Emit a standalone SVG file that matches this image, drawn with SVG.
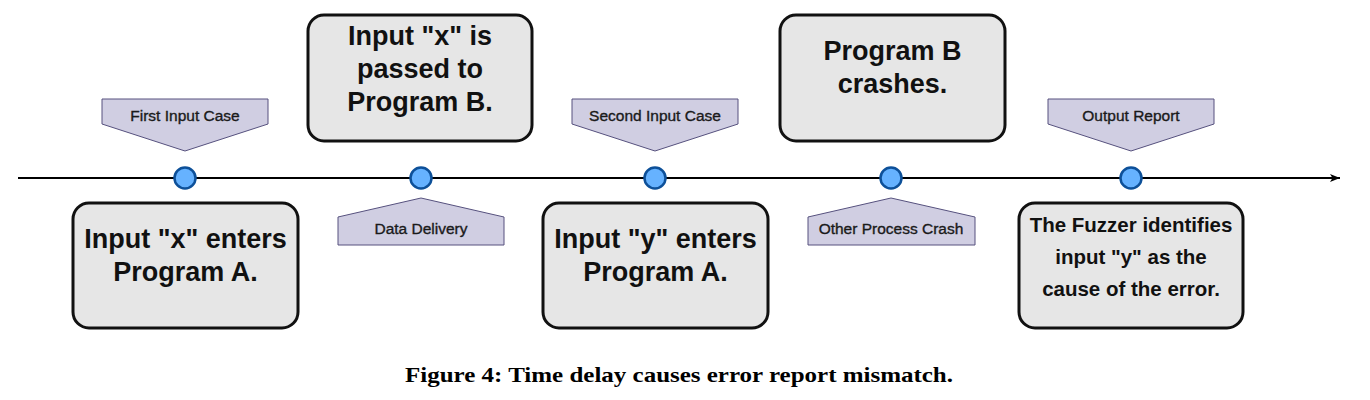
<svg xmlns="http://www.w3.org/2000/svg" width="1370" height="400" viewBox="0 0 1370 400">
<style>
.box{fill:#e6e6e6;stroke:#111;stroke-width:3}
.bt{font-family:"Liberation Sans",Arial,sans-serif;font-weight:bold;font-size:27px;fill:#111;text-anchor:middle}
.bt5{font-family:"Liberation Sans",Arial,sans-serif;font-weight:bold;font-size:20.5px;fill:#111;text-anchor:middle}
.tag{fill:#d0cee2;stroke:#56517e;stroke-width:1}
.tt{font-family:"Liberation Sans",Arial,sans-serif;font-size:15.5px;fill:#1a1a1a;stroke:#1a1a1a;stroke-width:0.35;text-anchor:middle}
.dot{fill:#66b2ff;stroke:#0d5099;stroke-width:2.5}
.cap{font-family:"Liberation Serif","Times New Roman",serif;font-weight:bold;font-size:22px;fill:#000;text-anchor:middle}
</style>
<defs>
<marker id="arr" markerWidth="12" markerHeight="10" refX="10" refY="5" orient="auto" markerUnits="userSpaceOnUse">
<path d="M0,1 L10,5 L0,9 L2.5,5 Z" fill="#000"/>
</marker>
</defs>
<g id="connectors">
<line x1="18" y1="178" x2="1340" y2="178" stroke="#000" stroke-width="1.8" marker-end="url(#arr)"/>
</g>
<g id="tag-first">
<path class="tag" d="M102,99 H268 V124 L185,151 L102,124 Z"/>
<text class="tt" x="185" y="120.5">First Input Case</text>
</g>
<g id="tag-second">
<path class="tag" d="M572,99 H738 V124 L655,151 L572,124 Z"/>
<text class="tt" x="655" y="120.5">Second Input Case</text>
</g>
<g id="tag-output">
<path class="tag" d="M1048,99 H1214 V124 L1131,151 L1048,124 Z"/>
<text class="tt" x="1131" y="120.5">Output Report</text>
</g>
<g id="tag-delivery">
<path class="tag" d="M338,217 L421,198 L504,217 V245 H338 Z"/>
<text class="tt" x="421" y="233.5">Data Delivery</text>
</g>
<g id="tag-crash">
<path class="tag" d="M808,217 L891,198 L975,217 V245 H808 Z"/>
<text class="tt" x="891" y="233.5">Other Process Crash</text>
</g>
<g id="dots">
<circle class="dot" cx="185" cy="178" r="10.5"/>
<circle class="dot" cx="421" cy="178" r="10.5"/>
<circle class="dot" cx="655" cy="178" r="10.5"/>
<circle class="dot" cx="891" cy="178" r="10.5"/>
<circle class="dot" cx="1131" cy="178" r="10.5"/>
</g>
<g id="box1">
<rect class="box" x="73" y="203" width="225" height="125" rx="16"/>
<text class="bt" x="185.5" y="248">Input "x" enters</text>
<text class="bt" x="185.5" y="281">Program A.</text>
</g>
<g id="box2">
<rect class="box" x="308" y="15" width="224" height="126" rx="16"/>
<text class="bt" x="420" y="45">Input "x" is</text>
<text class="bt" x="420" y="78">passed to</text>
<text class="bt" x="420" y="111">Program B.</text>
</g>
<g id="box3">
<rect class="box" x="543" y="203" width="225" height="125" rx="16"/>
<text class="bt" x="655.5" y="248">Input "y" enters</text>
<text class="bt" x="655.5" y="281">Program A.</text>
</g>
<g id="box4">
<rect class="box" x="780" y="15" width="225" height="126" rx="16"/>
<text class="bt" x="892.5" y="60">Program B</text>
<text class="bt" x="892.5" y="93">crashes.</text>
</g>
<g id="box5">
<rect class="box" x="1019" y="203" width="224" height="125" rx="16"/>
<text class="bt5" x="1131" y="232">The Fuzzer identifies</text>
<text class="bt5" x="1131" y="264">input "y" as the</text>
<text class="bt5" x="1131" y="296">cause of the error.</text>
</g>
<text class="cap" x="679" y="382" textLength="548" lengthAdjust="spacingAndGlyphs">Figure 4: Time delay causes error report mismatch.</text>
</svg>
